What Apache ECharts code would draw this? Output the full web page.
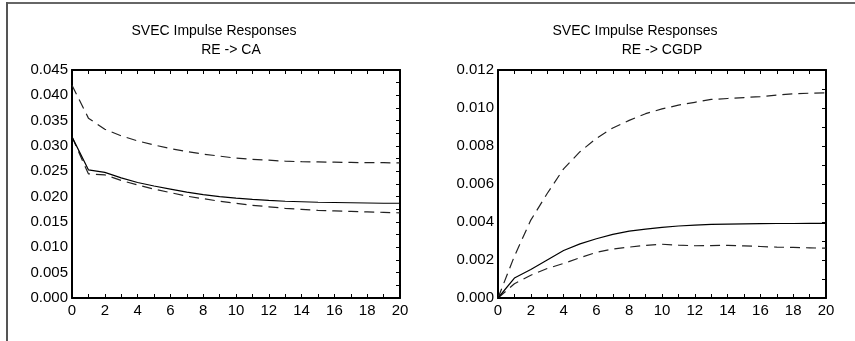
<!DOCTYPE html>
<html>
<head>
<meta charset="utf-8">
<script src="https://cdn.jsdelivr.net/npm/echarts@6/dist/echarts.min.js"></script>
<style>
  html, body { margin: 0; padding: 0; background: #fff; }
  #chart { width: 855px; height: 341px; }
</style>
</head>
<body>
<div id="chart"></div>
<script>
// horizon (periods after the shock)
const periods = [0, 1, 2, 3, 4, 5, 6, 7, 8, 9, 10, 11, 12, 13, 14, 15, 16, 17, 18, 19, 20]

// RE -> CA : point estimate and band
const caResponse = [0.0318, 0.0253, 0.0248, 0.0237, 0.0228, 0.0221, 0.0215, 0.0209, 0.0204, 0.0200, 0.0197,
  0.01945, 0.01925, 0.0191, 0.0190, 0.0189, 0.01885, 0.0188, 0.01875, 0.0187, 0.0187]
const caUpper = [0.0420, 0.0355, 0.0333, 0.0320, 0.0310, 0.0302, 0.0295, 0.0289, 0.0284, 0.0280, 0.0276,
  0.02735, 0.0272, 0.0270, 0.0269, 0.02685, 0.0268, 0.02675, 0.0267, 0.0267, 0.02665]
const caLower = [0.0318, 0.0245, 0.0243, 0.0232, 0.0223, 0.0215, 0.0208, 0.0201, 0.0196, 0.0191, 0.0187,
  0.0183, 0.0180, 0.0177, 0.0175, 0.0173, 0.0172, 0.0171, 0.0170, 0.0169, 0.0168]

// RE -> CGDP : point estimate and band
const gdpResponse = [0, 0.00105, 0.0015, 0.0020, 0.0025, 0.00285, 0.00312, 0.00335, 0.00352, 0.00363, 0.00372,
  0.00379, 0.00384, 0.00387, 0.00389, 0.0039, 0.00391, 0.00392, 0.00392, 0.00393, 0.00393]
const gdpUpper = [0, 0.0022, 0.0041, 0.0055, 0.0068, 0.0077, 0.0084, 0.00895, 0.00935, 0.0097, 0.00995,
  0.01015, 0.0103, 0.01045, 0.0105, 0.01055, 0.0106, 0.01068, 0.01075, 0.01078, 0.0108]
const gdpLower = [0, 0.00075, 0.0012, 0.00155, 0.00182, 0.00212, 0.0024, 0.00258, 0.00268, 0.00277, 0.00283,
  0.00278, 0.00275, 0.00276, 0.00277, 0.00274, 0.00271, 0.00268, 0.00266, 0.00264, 0.00262]

const panels = [
  { title: 'SVEC Impulse Responses', sub: 'RE -> CA', yMax: 0.045, yStep: 0.005,
    mid: caResponse, hi: caUpper, lo: caLower,
    grid: { left: 72, right: 455, top: 70, bottom: 43 }, titleX: 214, subX: 231 },
  { title: 'SVEC Impulse Responses', sub: 'RE -> CGDP', yMax: 0.012, yStep: 0.002,
    mid: gdpResponse, hi: gdpUpper, lo: gdpLower,
    grid: { left: 498, right: 29, top: 70, bottom: 43 }, titleX: 635, subX: 662 }
]

const font = 'Liberation Sans, Arial, Helvetica, sans-serif'
const black = '#000'

const chart = echarts.init(document.getElementById('chart'))

const toPairs = arr => periods.map((p, i) => [p, arr[i]])

const option = {
  animation: false,
  backgroundColor: '#fff',
  title: [],
  grid: [],
  xAxis: [],
  yAxis: [],
  series: [],
  graphic: [
    // frame round the page
    { type: 'line', shape: { x1: 6, y1: 3, x2: 855, y2: 3 }, style: { stroke: '#666', lineWidth: 2 } },
    { type: 'line', shape: { x1: 7, y1: 2, x2: 7, y2: 341 }, style: { stroke: '#555', lineWidth: 2 } }
  ]
}

panels.forEach((p, k) => {
  option.title.push({
    text: p.title, left: p.titleX, top: 24, textAlign: 'center', padding: 0,
    textStyle: { fontSize: 14, fontWeight: 'normal', fontFamily: font, color: black }
  })
  option.title.push({
    text: p.sub, left: p.subX, top: 43, textAlign: 'center', padding: 0,
    textStyle: { fontSize: 14, fontWeight: 'normal', fontFamily: font, color: black }
  })

  option.grid.push(Object.assign({ outerBoundsMode: 'none' }, p.grid))

  const tick = { show: true, inside: true, length: 4, lineStyle: { color: black, width: 1 } }
  const line = { show: true, onZero: false, lineStyle: { color: black, width: 2 } }

  // bottom x axis with labels, top x axis as frame
  ;['bottom', 'top'].forEach(pos => {
    option.xAxis.push({
      type: 'value', gridIndex: k, position: pos, min: 0, max: 20, interval: 2,
      axisLine: line,
      axisTick: tick,
      minorTick: { show: true, splitNumber: 2, length: 4, lineStyle: { color: black, width: 1 } },
      splitLine: { show: false },
      axisLabel: {
        show: pos === 'bottom', color: black, fontSize: 15, fontFamily: font, margin: 5
      }
    })
  })

  // left y axis with labels, right y axis as frame
  ;['left', 'right'].forEach(pos => {
    option.yAxis.push({
      type: 'value', gridIndex: k, position: pos, min: 0, max: p.yMax, interval: p.yStep,
      axisLine: line,
      axisTick: pos === 'right' ? tick : { show: false },
      minorTick: { show: pos === 'right', splitNumber: 2, length: 4, lineStyle: { color: black, width: 1 } },
      splitLine: { show: false },
      axisLabel: {
        show: pos === 'left', color: black, fontSize: 15, fontFamily: font, margin: 4,
        formatter: v => v.toFixed(3)
      }
    })
  })

  const xi = k * 2
  const yi = k * 2
  option.series.push(
    { type: 'line', xAxisIndex: xi, yAxisIndex: yi, data: toPairs(p.hi), symbol: 'none',
      lineStyle: { color: '#222', width: 1.2, type: [10, 6] }, z: 3 },
    { type: 'line', xAxisIndex: xi, yAxisIndex: yi, data: toPairs(p.lo), symbol: 'none',
      lineStyle: { color: '#222', width: 1.2, type: [10, 6] }, z: 3 },
    { type: 'line', xAxisIndex: xi, yAxisIndex: yi, data: toPairs(p.mid), symbol: 'none',
      lineStyle: { color: black, width: 1.2 }, z: 4 }
  )
})

chart.setOption(option)
</script>
</body>
</html>
